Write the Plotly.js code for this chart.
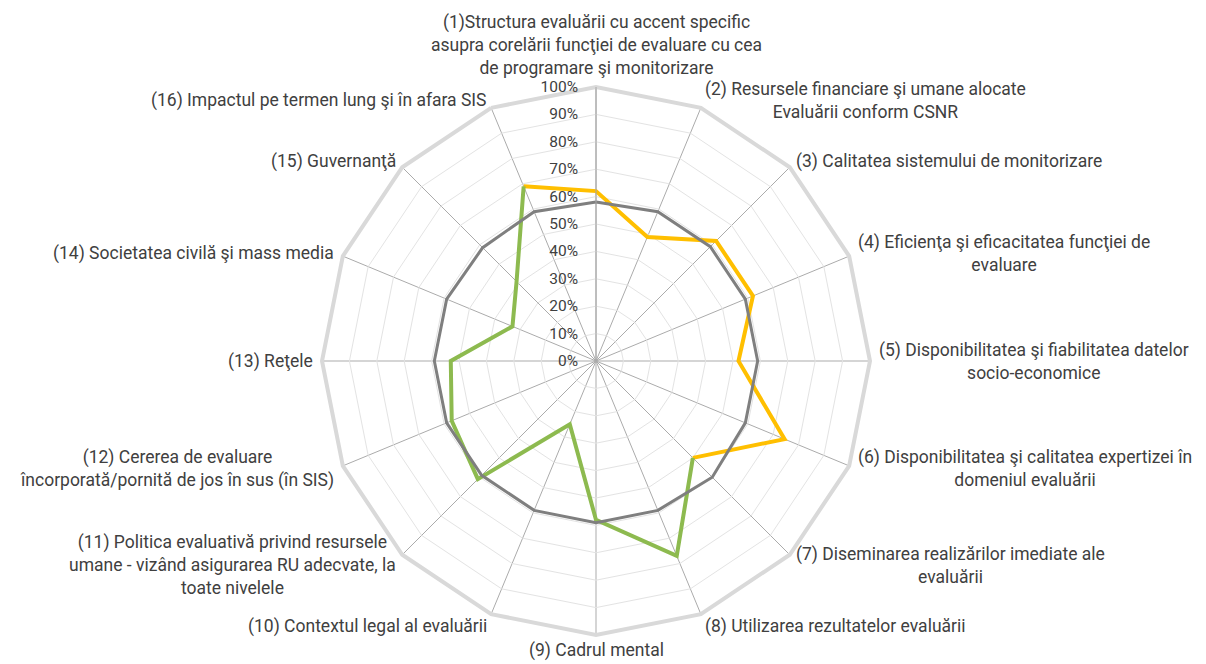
<!DOCTYPE html>
<html>
<head>
<meta charset="utf-8">
<script src="https://cdn.plot.ly/plotly-3.0.1.min.js"></script>
<style>
  html, body { margin: 0; padding: 0; background: #ffffff; }
  #chart { width: 1206px; height: 664px; }
</style>
</head>
<body>
<div id="chart"></div>
<script>
// ---- Data ----
const categories = [
  "(1)Structura evaluării cu accent specific<br>asupra corelării funcţiei de evaluare cu cea<br>de programare şi monitorizare",
  "(2) Resursele financiare şi umane alocate<br>Evaluării conform CSNR",
  "(3) Calitatea sistemului de monitorizare",
  "(4) Eficienţa şi eficacitatea funcţiei de<br>evaluare",
  "(5) Disponibilitatea şi fiabilitatea datelor<br>socio-economice",
  "(6) Disponibilitatea şi calitatea expertizei în<br>domeniul evaluării",
  "(7) Diseminarea realizărilor imediate ale<br>evaluării",
  "(8) Utilizarea rezultatelor evaluării",
  "(9) Cadrul mental",
  "(10) Contextul legal al evaluării",
  "(11) Politica evaluativă privind resursele<br>umane - vizând asigurarea RU adecvate, la<br>toate nivelele",
  "(12) Cererea de evaluare<br>încorporată/pornită de jos în sus (în SIS)",
  "(13) Reţele",
  "(14) Societatea civilă şi mass media",
  "(15) Guvernanţă",
  "(16) Impactul pe termen lung şi în afara SIS"
];

// gray series: all 16 categories
const grayValues = [0.58, 0.59, 0.59, 0.59, 0.59, 0.59, 0.60, 0.59,
                    0.59, 0.59, 0.59, 0.59, 0.59, 0.59, 0.585, 0.59];

// orange series: categories 16, 1..7 (1-based numbers)
const orangeCats = [16, 1, 2, 3, 4, 5, 6, 7];
const orangeValues = [0.69, 0.62, 0.49, 0.62, 0.62, 0.52, 0.745, 0.50];

// green series: categories 7..16
const greenCats = [7, 8, 9, 10, 11, 12, 13, 14, 15, 16];
const greenValues = [0.50, 0.77, 0.58, 0.25, 0.61, 0.57, 0.53, 0.33, 0.41, 0.69];

const radialTicks = [0, 0.1, 0.2, 0.3, 0.4, 0.5, 0.6, 0.7, 0.8, 0.9, 1.0];

// ---- Layout geometry ----
const W = 1206, H = 664;
const cx = 596, cy = 361, R = 274;
const domX = [(cx - R) / W, (cx + R) / W];
const domY = [1 - (cy + R) / H, 1 - (cy - R) / H];
const FONT = 'Roboto, "Open Sans", sans-serif';

const catName = n => categories[n - 1];

const traces = [
  {
    type: 'scatterpolar', mode: 'lines',
    theta: orangeCats.map(catName), r: orangeValues,
    line: { color: '#FFBF00', width: 4 },
    hoverinfo: 'skip', showlegend: false
  },
  {
    type: 'scatterpolar', mode: 'lines',
    theta: greenCats.map(catName), r: greenValues,
    line: { color: '#8DBA4F', width: 4 },
    hoverinfo: 'skip', showlegend: false
  },
  {
    type: 'scatterpolar', mode: 'lines',
    theta: categories.concat([categories[0]]), r: grayValues.concat([grayValues[0]]),
    line: { color: '#7F7F7F', width: 3 },
    hoverinfo: 'skip', showlegend: false
  }
];

// category labels as annotations around the outer ring
const annotations = categories.map((txt, i) => {
  const a = i * 2 * Math.PI / categories.length;
  const dx = Math.sin(a), dy = -Math.cos(a);
  let off = 8;
  if (i === 0) off = 8;
  if (i === 8) off = 4;
  const px = cx + (R + off) * dx;
  let py = cy + (R + off) * dy;
  if (dy > 0.5 && i !== 8) py += 5;
  let xanchor = Math.abs(dx) < 0.01 ? 'center' : (dx > 0 ? 'left' : 'right');
  let yanchor = 'middle';
  if (i === 0) yanchor = 'bottom';
  if (i === 8) yanchor = 'top';
  return {
    xref: 'paper', yref: 'paper',
    x: px / W, y: 1 - py / H,
    xanchor: xanchor, yanchor: yanchor,
    text: txt, showarrow: false, align: 'center',
    borderpad: 0,
    font: { family: FONT, size: 17.5, color: '#404040' }
  };
});

const layout = {
  width: W, height: H,
  margin: { l: 0, r: 0, t: 0, b: 0 },
  paper_bgcolor: '#ffffff',
  showlegend: false,
  font: { family: FONT, size: 16, color: '#404040' },
  polar: {
    domain: { x: domX, y: domY },
    bgcolor: '#ffffff',
    gridshape: 'linear',
    radialaxis: {
      range: [0, 1],
      angle: 90,
      tickvals: radialTicks,
      tickformat: '.0%',
      tickangle: 90,
      side: 'counterclockwise',
      showline: true, linecolor: '#A6A6A6', linewidth: 1,
      gridcolor: '#E3E3E3', gridwidth: 1,
      ticks: 'outside', ticklen: 12, tickcolor: 'rgba(0,0,0,0)',
      tickfont: { family: FONT, size: 15.5, color: '#404040' }
    },
    angularaxis: {
      type: 'category',
      categoryarray: categories,
      direction: 'clockwise',
      rotation: 90,
      showticklabels: false,
      ticks: '',
      gridcolor: '#ABABAB', gridwidth: 1,
      showline: true, linecolor: '#D9D9D9', linewidth: 4
    }
  },
  annotations: annotations
};

Plotly.newPlot('chart', traces, layout, { displayModeBar: false, staticPlot: true });
</script>
</body>
</html>
